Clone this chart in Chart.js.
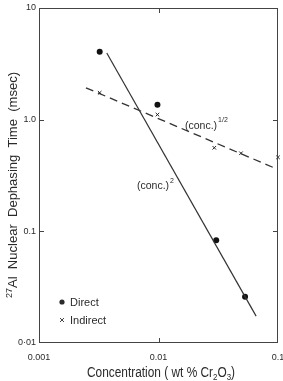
<!DOCTYPE html>
<html>
<head>
<meta charset="utf-8">
<script src="https://cdn.jsdelivr.net/npm/chart.js@4/dist/chart.umd.min.js"></script>
<style>
  html, body { margin: 0; padding: 0; background: #fff; }
</style>
</head>
<body>
<canvas id="chart" width="283" height="381"></canvas>
<script>
// values
const directX = [0.00322, 0.0098, 0.0304, 0.053];
const directY = [4.05, 1.36, 0.083, 0.026];
const indirectX = [0.00322, 0.0098, 0.0293, 0.049, 0.1];
const indirectY = [1.74, 1.11, 0.56, 0.50, 0.46];
// fitted lines: (conc.)^2 and (conc.)^1/2
const squareFitX = [0.00369, 0.0656];
const squareFitY = [3.96, 0.0174];
const rootFitX = [0.00247, 0.1];
const rootFitY = [1.93, 0.358];

const xTicks = [0.001, 0.01, 0.1];
const xTickLabels = ["0.001", "0.01", "0.1"];
const yTicks = [0.01, 0.1, 1, 10];
const yTickLabels = ["0·01", "0.1", "1.0", "10"];

const INK = "#2a2a2a";
const FONT = "'Liberation Sans', Arial, sans-serif";

function pairs(xs, ys) {
  return xs.map((x, i) => ({ x: x, y: ys[i] }));
}

// draws a run of [text, font, offset] pieces, stretched to a given length
function drawRun(ctx, parts, length) {
  let w = 0;
  parts.forEach(p => { ctx.font = p[1]; w += ctx.measureText(p[0]).width; });
  ctx.scale(length / w, 1);
  let cx = -w / 2;
  parts.forEach(p => {
    ctx.font = p[1];
    ctx.fillText(p[0], cx, p[2]);
    cx += ctx.measureText(p[0]).width;
  });
}

// box, inward ticks, titles, legend, curve labels
const decorations = {
  id: "decorations",
  afterDraw(chart) {
    const ctx = chart.ctx;
    const a = chart.chartArea;
    const xs = chart.scales.x, ys = chart.scales.y;
    ctx.save();
    ctx.strokeStyle = "#444";
    ctx.lineWidth = 1;
    ctx.strokeRect(a.left + 0.5, a.top + 0.5, a.right - a.left - 1, a.bottom - a.top - 1);

    ctx.beginPath();
    xTicks.slice(1, -1).forEach(v => {
      const px = Math.round(xs.getPixelForValue(v)) + 0.5;
      ctx.moveTo(px, a.bottom); ctx.lineTo(px, a.bottom - 5);
      ctx.moveTo(px, a.top); ctx.lineTo(px, a.top + 5);
    });
    yTicks.slice(1, -1).forEach(v => {
      const py = Math.round(ys.getPixelForValue(v)) + 0.5;
      ctx.moveTo(a.left, py); ctx.lineTo(a.left + 5, py);
      ctx.moveTo(a.right, py); ctx.lineTo(a.right - 5, py);
    });
    ctx.stroke();

    ctx.fillStyle = INK;
    ctx.textBaseline = "alphabetic";

    // x title with subscripts
    ctx.save();
    ctx.translate(161, 377);
    ctx.scale(1, 1.15);
    drawRun(ctx, [["Concentration ( wt % Cr", "12px " + FONT, 0], ["2", "8px " + FONT, 3],
                  ["O", "12px " + FONT, 0], ["3", "8px " + FONT, 3], [")", "12px " + FONT, 0]], 148);
    ctx.restore();

    // y title, rotated, with superscript
    ctx.save();
    ctx.translate(17, 185);
    ctx.rotate(-Math.PI / 2);
    drawRun(ctx, [["27", "9px " + FONT, -5], ["Al  Nuclear  Dephasing  Time  (msec)", "13px " + FONT, 0]], 226);
    ctx.restore();

    // curve labels
    ctx.font = "10.5px " + FONT;
    ctx.fillText("(conc.)", 185, 129);
    let sx = 185 + ctx.measureText("(conc.)").width + 1;
    ctx.fillText("(conc.)", 137, 189);
    let sx2 = 137 + ctx.measureText("(conc.)").width + 1;
    ctx.font = "7px " + FONT;
    ctx.fillText("1/2", sx, 122);
    ctx.fillText("2", sx2, 183);

    // legend
    ctx.font = "11px " + FONT;
    ctx.fillText("Direct", 70, 306);
    ctx.fillText("Indirect", 70, 324);
    ctx.beginPath();
    ctx.arc(62, 302, 2.6, 0, Math.PI * 2);
    ctx.fill();
    ctx.beginPath();
    ctx.lineWidth = 1;
    ctx.moveTo(60, 318); ctx.lineTo(64, 322);
    ctx.moveTo(64, 318); ctx.lineTo(60, 322);
    ctx.stroke();
    ctx.restore();
  }
};

new Chart(document.getElementById("chart").getContext("2d"), {
  type: "scatter",
  data: {
    datasets: [
      {
        label: "(conc.)^2",
        data: pairs(squareFitX, squareFitY),
        showLine: true,
        borderColor: "#333",
        borderWidth: 1.2,
        pointRadius: 0
      },
      {
        label: "(conc.)^1/2",
        data: pairs(rootFitX, rootFitY),
        showLine: true,
        borderColor: "#333",
        borderWidth: 1.3,
        borderDash: [8, 5],
        pointRadius: 0
      },
      {
        label: "Direct",
        data: pairs(directX, directY),
        pointStyle: "circle",
        pointRadius: 3,
        backgroundColor: "#111",
        borderColor: "#111",
        borderWidth: 0
      },
      {
        label: "Indirect",
        data: pairs(indirectX, indirectY),
        pointStyle: "crossRot",
        pointRadius: 2.5,
        borderColor: "#222",
        borderWidth: 1,
        clip: false
      }
    ]
  },
  options: {
    responsive: false,
    animation: false,
    devicePixelRatio: 1,
    layout: { padding: { left: 0, right: 4, top: 8, bottom: 0 } },
    plugins: { legend: { display: false }, tooltip: { enabled: false } },
    scales: {
      x: {
        type: "logarithmic",
        min: 0.001,
        max: 0.1,
        afterBuildTicks: s => { s.ticks = xTicks.map(v => ({ value: v })); },
        afterFit: s => { s.height = 38; s.paddingLeft = 0; s.paddingRight = 0; },
        grid: { display: true, drawOnChartArea: false, drawTicks: false },
        border: { display: false },
        ticks: {
          autoSkip: false,
          maxRotation: 0,
          padding: 9,
          color: INK,
          font: { family: FONT, size: 9 },
          callback: v => xTickLabels[xTicks.indexOf(v)]
        }
      },
      y: {
        type: "logarithmic",
        min: 0.01,
        max: 10,
        afterBuildTicks: s => { s.ticks = yTicks.map(v => ({ value: v })); },
        afterFit: s => { s.width = 39; s.paddingTop = 0; s.paddingBottom = 0; },
        grid: { display: true, drawOnChartArea: false, drawTicks: false },
        border: { display: false },
        ticks: {
          autoSkip: false,
          padding: 3,
          color: INK,
          font: { family: FONT, size: 9 },
          callback: v => yTickLabels[yTicks.indexOf(v)]
        }
      }
    }
  },
  plugins: [decorations]
});
</script>
</body>
</html>
